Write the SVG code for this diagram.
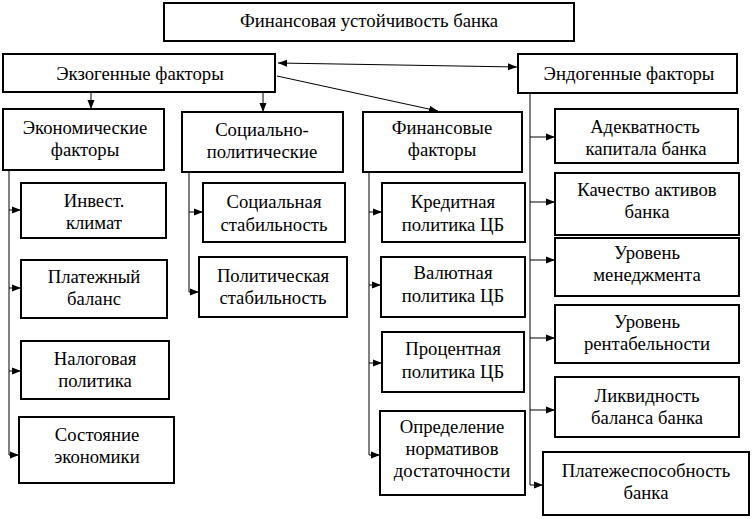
<svg xmlns="http://www.w3.org/2000/svg" width="752" height="519" viewBox="0 0 752 519">
<style>
.b{fill:#fff;stroke:#000;stroke-width:2}
text{font-family:'Liberation Serif','Times New Roman',Times,'DejaVu Serif',serif;font-size:18.7px;text-anchor:middle;fill:#000}
.c{stroke:#000;stroke-width:1;fill:none}
.a{stroke:#000;stroke-width:1;fill:none;marker-end:url(#ah)}
</style>
<defs>
<marker id="ah" markerUnits="userSpaceOnUse" markerWidth="9" markerHeight="8" refX="9" refY="4" orient="auto-start-reverse"><path d="M0,0.5 L9,4 L0,7.5 z" fill="#000"/></marker>
</defs>
<rect width="752" height="519" fill="#fff"/>
<g id="connectors">
<line class="a" x1="278" y1="63" x2="517" y2="67" style="marker-start:url(#ah)"/>
<line class="a" x1="277" y1="76" x2="438" y2="111"/>
<line class="a" x1="91" y1="92" x2="91" y2="109"/>
<line class="a" x1="263" y1="92" x2="263" y2="112"/>
<line class="c" x1="9" y1="170" x2="9" y2="455"/>
<line class="a" x1="9" y1="210" x2="21" y2="210"/>
<line class="a" x1="9" y1="288" x2="21" y2="288"/>
<line class="a" x1="9" y1="371" x2="21" y2="371"/>
<line class="a" x1="9" y1="455" x2="19" y2="455"/>
<line class="c" x1="189" y1="172" x2="189" y2="292"/>
<line class="a" x1="189" y1="212" x2="203" y2="212"/>
<line class="a" x1="189" y1="292" x2="199" y2="292"/>
<line class="c" x1="369" y1="172" x2="369" y2="455"/>
<line class="a" x1="369" y1="212" x2="382" y2="212"/>
<line class="a" x1="369" y1="285" x2="381" y2="285"/>
<line class="a" x1="369" y1="363" x2="382" y2="363"/>
<line class="a" x1="369" y1="455" x2="380" y2="455"/>
<line class="c" x1="530" y1="93" x2="530" y2="485"/>
<line class="a" x1="530" y1="137" x2="555" y2="137"/>
<line class="a" x1="530" y1="202" x2="555" y2="202"/>
<line class="a" x1="530" y1="260" x2="555" y2="260"/>
<line class="a" x1="530" y1="338" x2="555" y2="338"/>
<line class="a" x1="530" y1="410" x2="555" y2="410"/>
<line class="a" x1="530" y1="485" x2="543" y2="485"/>
</g>
<g id="title"><rect class="b" x="164" y="3" width="410" height="38"/><text x="369" y="27">Финансовая устойчивость банка</text></g>
<g id="exo"><rect class="b" x="3" y="54" width="272" height="38"/><text x="140" y="80">Экзогенные факторы</text></g>
<g id="endo"><rect class="b" x="518" y="54" width="219" height="39"/><text x="629" y="80">Эндогенные факторы</text></g>
<g id="econ"><rect class="b" x="3" y="109" width="161" height="61"/><text x="85" y="134">Экономические</text><text x="85" y="156">факторы</text></g>
<g id="socpol"><rect class="b" x="182" y="112" width="161" height="60"/><text x="262" y="136">Социально-</text><text x="262" y="158">политические</text></g>
<g id="fin"><rect class="b" x="363" y="112" width="159" height="60"/><text x="442" y="134">Финансовые</text><text x="442" y="156">факторы</text></g>
<g id="invest"><rect class="b" x="21" y="183" width="145" height="55"/><text x="94" y="207">Инвест.</text><text x="94" y="229">климат</text></g>
<g id="plat"><rect class="b" x="21" y="260" width="146" height="58"/><text x="94" y="283">Платежный</text><text x="94" y="305">баланс</text></g>
<g id="nalog"><rect class="b" x="21" y="341" width="148" height="58"/><text x="95" y="365">Налоговая</text><text x="95" y="387">политика</text></g>
<g id="sost"><rect class="b" x="19" y="417" width="155" height="66"/><text x="97" y="441">Состояние</text><text x="97" y="463">экономики</text></g>
<g id="socst"><rect class="b" x="203" y="183" width="142" height="59"/><text x="274" y="208">Социальная</text><text x="274" y="231">стабильность</text></g>
<g id="polst"><rect class="b" x="199" y="257" width="148" height="60"/><text x="273" y="282">Политическая</text><text x="273" y="304">стабильность</text></g>
<g id="kred"><rect class="b" x="382" y="183" width="143" height="59"/><text x="453" y="208">Кредитная</text><text x="453" y="231">политика ЦБ</text></g>
<g id="val"><rect class="b" x="381" y="257" width="144" height="60"/><text x="453" y="279">Валютная</text><text x="453" y="302">политика ЦБ</text></g>
<g id="proc"><rect class="b" x="382" y="332" width="142" height="60"/><text x="453" y="355">Процентная</text><text x="453" y="378">политика ЦБ</text></g>
<g id="opred"><rect class="b" x="380" y="411" width="145" height="84"/><text x="452" y="433">Определение</text><text x="452" y="455">нормативов</text><text x="452" y="477">достаточности</text></g>
<g id="adekv"><rect class="b" x="555" y="109" width="183" height="54"/><text x="645" y="133">Адекватность</text><text x="646" y="155">капитала банка</text></g>
<g id="kach"><rect class="b" x="555" y="173" width="184" height="62"/><text x="647" y="196">Качество активов</text><text x="647" y="218">банка</text></g>
<g id="menedzh"><rect class="b" x="555" y="238" width="184" height="58"/><text x="647" y="259">Уровень</text><text x="647" y="281">менеджмента</text></g>
<g id="rent"><rect class="b" x="555" y="305" width="184" height="58"/><text x="647" y="328">Уровень</text><text x="647" y="350">рентабельности</text></g>
<g id="likv"><rect class="b" x="555" y="377" width="184" height="60"/><text x="647" y="402">Ликвидность</text><text x="647" y="424">баланса банка</text></g>
<g id="platezh"><rect class="b" x="543" y="452" width="206" height="63"/><text x="646" y="477">Платежеспособность</text><text x="646" y="499">банка</text></g>
</svg>
